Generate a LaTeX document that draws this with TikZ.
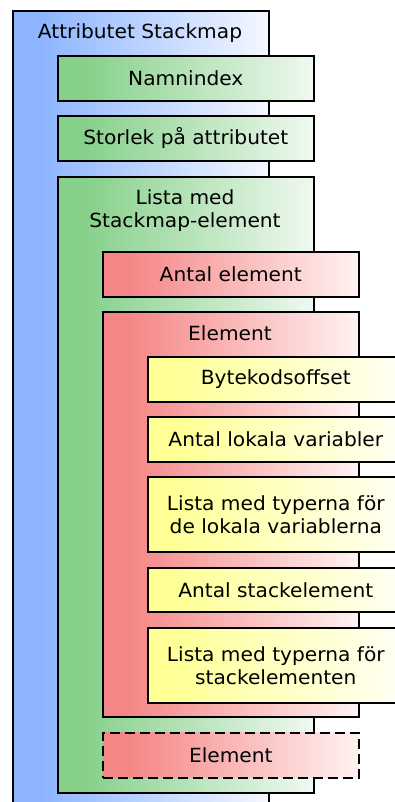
\documentclass[tikz,border=0pt]{standalone}
\usepackage{fontspec}
\setmainfont{DejaVu Sans}[FakeStretch=1.035]
\usetikzlibrary{positioning}

% base and faded end colours for each nesting level
\definecolor{blueA}{RGB}{140,180,255}
\definecolor{blueB}{RGB}{245,248,255}
\definecolor{greenA}{RGB}{134,208,138}
\definecolor{greenB}{RGB}{240,249,240}
\definecolor{redA}{RGB}{245,134,134}
\definecolor{redB}{RGB}{255,242,242}
\definecolor{yellowA}{RGB}{255,255,150}
\definecolor{yellowB}{RGB}{255,255,245}

% horizontal fades: solid for the first tenth, then lighter to the right
\pgfdeclarehorizontalshading{blueshade}{100bp}{color(0bp)=(blueA); color(30bp)=(blueA); color(75bp)=(blueB); color(100bp)=(blueB)}
\pgfdeclarehorizontalshading{greenshade}{100bp}{color(0bp)=(greenA); color(30bp)=(greenA); color(75bp)=(greenB); color(100bp)=(greenB)}
\pgfdeclarehorizontalshading{redshade}{100bp}{color(0bp)=(redA); color(30bp)=(redA); color(75bp)=(redB); color(100bp)=(redB)}
\pgfdeclarehorizontalshading{yellowshade}{100bp}{color(0bp)=(yellowA); color(30bp)=(yellowA); color(75bp)=(yellowB); color(100bp)=(yellowB)}

\tikzset{
  field/.style={draw=black, line width=1.6pt, rectangle, anchor=north west,
    minimum width=256pt, inner sep=0pt, font=\fontsize{19.5}{23}\selectfont,
    align=center, text=black},
  lvlA/.style={field, shading=blueshade},
  lvlB/.style={field, shading=greenshade},
  lvlC/.style={field, shading=redshade},
  lvlD/.style={field, shading=yellowshade},
  caption/.style={font=\fontsize{19.5}{23}\selectfont, align=center, text=black, inner sep=0pt},
}

\begin{document}
\begin{tikzpicture}[x=1pt, y=-1pt]
  \useasboundingbox (0,0) rectangle (395,802);
  \clip (0,0) rectangle (395,802);

  % outer attribute
  \node[lvlA, minimum height=820pt] (attr) at (12,10) {};
  \node[caption] (attrTitle) at (140,33) {Attributet Stackmap};

  % attribute fields
  \node[lvlB, minimum height=45pt] (nameIdx) at (57,55) {Namnindex};
  \node[lvlB, minimum height=45pt] (attrLen) at (57,115) {Storlek på attributet};

  % list of stackmap entries
  \node[lvlB, minimum height=616pt] (list) at (57,176) {};
  \node[caption] (listTitle) at (185,211) {Lista med\\Stackmap-element};

  \node[lvlC, minimum height=45pt] (count) at (102,251) {Antal element};

  % one entry
  \node[lvlC, minimum height=405pt] (entry) at (102,311) {};
  \node[caption] (entryTitle) at (230,333) {Element};

  \node[lvlD, minimum height=45pt] (offset) at (147,356) {Bytekodsoffset};
  \node[lvlD, minimum height=45pt] (nLocals) at (147,416) {Antal lokala variabler};
  \node[lvlD, minimum height=75pt] (locals) at (147,476) {Lista med typerna för\\de lokala variablerna};
  \node[lvlD, minimum height=44pt] (nStack) at (147,567) {Antal stackelement};
  \node[lvlD, minimum height=75pt] (stack) at (147,627) {Lista med typerna för\\stackelementen};

  % further entries
  \node[lvlC, minimum height=45pt, dash pattern=on 10pt off 5pt] (entryMore) at (102,732) {Element};
\end{tikzpicture}
\end{document}
